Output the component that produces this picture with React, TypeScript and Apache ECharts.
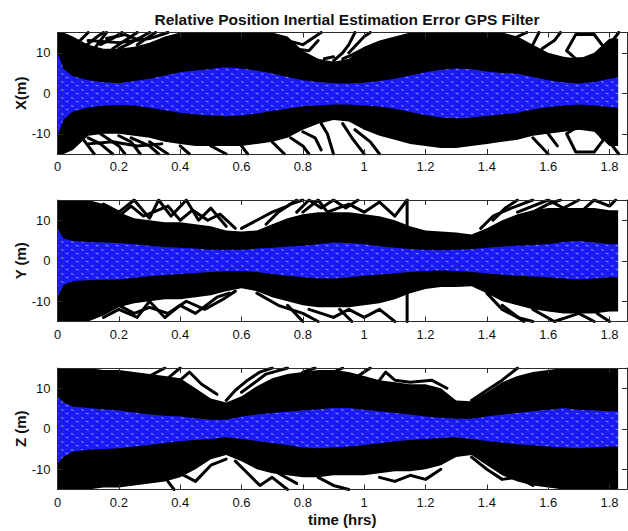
import React, { useEffect, useRef } from "react";
import * as echarts from "echarts";

// time samples (hrs) shared by the envelope arrays below
const timeHrs = [0, 0.02, 0.05, 0.1, 0.15, 0.2, 0.25, 0.3, 0.35, 0.4, 0.45, 0.5, 0.55, 0.6, 0.65, 0.7, 0.75, 0.8, 0.85, 0.9, 0.95, 1.0, 1.05, 1.1, 1.15, 1.2, 1.25, 1.3, 1.35, 1.4, 1.45, 1.5, 1.55, 1.6, 1.65, 1.7, 1.75, 1.8, 1.828];

// X panel: extent of the dense blue (filter) runs and black (inertial) runs, metres
const xBlueUpper = [10, 6.0, 4.2, 3.2, 2.7, 2.5, 3.0, 3.6, 4.4, 5.2, 5.6, 6.0, 6.4, 6.1, 5.6, 4.9, 4.0, 3.2, 2.8, 2.5, 2.4, 2.6, 3.0, 3.6, 4.4, 5.2, 5.8, 6.1, 5.9, 5.4, 5.0, 4.8, 4.0, 3.2, 2.7, 2.4, 2.8, 3.6, 3.9];
const xBlueLower = [-10.5, -6.5, -4.5, -3.5, -3.0, -2.9, -3.0, -3.6, -4.2, -4.8, -5.2, -5.5, -5.7, -5.5, -5.0, -4.4, -3.8, -3.2, -3.0, -2.8, -2.8, -3.0, -3.3, -3.8, -4.6, -5.4, -6.0, -6.2, -6.0, -5.6, -5.2, -4.8, -4.0, -3.4, -3.0, -2.8, -3.0, -3.4, -3.6];
const xBlackUpper = [15, 15, 14, 12, 11, 11, 11.5, 12.5, 14, 15, 15, 15, 15, 15, 15, 15, 14, 10.5, 8.5, 7.8, 8.5, 11.5, 13, 14, 15, 15, 15, 15, 15, 15, 15, 14, 12, 10, 9, 8.5, 10, 13.5, 13.5];
const xBlackLower = [-15, -15, -14, -10.5, -10, -10, -10.5, -11, -12, -12.5, -13, -13, -13, -13, -12.5, -12, -11, -9, -7.5, -6.6, -7, -9, -10.5, -11.5, -12.5, -13, -13.5, -13.5, -13, -12.5, -12, -11.5, -10.5, -10, -9.5, -9, -9.5, -13, -13];
const xStrands = [
  [[0.06, 12], [0.1, 15]], [[0.08, 11], [0.13, 14], [0.15, 15]], [[0.12, 11], [0.16, 15]], [[0.14, 12], [0.19, 14], [0.21, 15]],
  [[0.18, 11], [0.22, 13], [0.26, 15]], [[0.2, 11], [0.24, 12.5], [0.3, 15]], [[0.26, 12], [0.29, 13.5], [0.32, 15]],
  [[0.1, 13], [0.2, 12.5], [0.3, 13.5], [0.36, 15]], [[0.16, 13.5], [0.22, 14.5], [0.27, 13]],
  [[0.07, -10], [0.1, -13], [0.12, -15]], [[0.1, -11], [0.14, -12.5], [0.18, -15]], [[0.14, -10], [0.2, -13], [0.22, -15]],
  [[0.2, -10.5], [0.24, -12], [0.27, -15]], [[0.24, -11], [0.3, -13], [0.33, -15]], [[0.1, -12.5], [0.18, -12], [0.26, -13], [0.34, -12.5]],
  [[0.3, -12], [0.36, -15]], [[0.4, -13], [0.43, -15]], [[0.5, -13], [0.55, -15]], [[0.6, -13], [0.62, -15]], [[0.7, -12], [0.74, -15]],
  [[0.75, 13], [0.8, 12], [0.84, 14], [0.86, 15]], [[0.77, 11], [0.82, 10.5], [0.85, 13]], [[0.9, 8], [0.93, 10], [0.95, 12], [0.97, 15]],
  [[0.95, 10], [1.0, 14], [1.02, 15]], [[0.87, 8.5], [0.9, 9]], [[0.93, 8.5], [0.96, 9.5], [1.0, 11]],
  [[0.76, -11], [0.8, -13], [0.82, -15]], [[0.8, -9.5], [0.84, -11], [0.86, -14]], [[0.86, -7.5], [0.88, -10], [0.9, -15]],
  [[0.93, -7.5], [0.96, -11], [0.99, -14], [1.0, -15]], [[0.97, -9], [1.02, -12], [1.05, -15]],
  [[1.5, 14], [1.53, 15]], [[1.55, 12], [1.57, 15]], [[1.58, 11], [1.62, 13], [1.64, 15]],
  [[1.66, 10.5], [1.69, 14.5], [1.75, 14.5], [1.78, 11.5], [1.75, 8.5], [1.69, 8.5], [1.66, 10.5]],
  [[1.78, 10], [1.83, 15]],
  [[1.66, -10], [1.69, -14.5], [1.75, -14.5], [1.78, -11.5], [1.75, -8.5], [1.69, -8.5], [1.66, -10]],
  [[1.55, -11], [1.6, -15]], [[1.78, -10], [1.83, -15]], [[1.6, -10], [1.63, -13]],
];

// Y panel
const yBlueUpper = [8, 5.5, 4.9, 4.6, 4.5, 4.4, 4.1, 3.7, 3.4, 3.2, 3.0, 2.7, 2.7, 2.7, 3.0, 3.2, 3.5, 3.7, 4.1, 4.5, 4.4, 4.1, 3.6, 3.2, 2.9, 2.7, 2.6, 2.7, 2.9, 3.2, 3.5, 3.7, 3.9, 4.1, 4.6, 4.9, 4.5, 4.1, 4.1];
const yBlueLower = [-9, -6, -5.0, -4.8, -4.7, -4.6, -4.2, -3.8, -3.5, -3.3, -3.0, -2.8, -2.6, -2.5, -2.8, -3.3, -3.7, -4.1, -4.3, -4.4, -4.1, -3.7, -3.4, -3.1, -2.8, -2.5, -2.4, -2.5, -2.8, -3.1, -3.4, -3.7, -3.9, -4.1, -4.4, -4.6, -4.4, -4.1, -4.1];
const yBlackUpper = [15, 15, 15, 15, 14, 12, 10.5, 10, 9.5, 9.5, 9, 8.5, 7.5, 7.2, 7.5, 9, 10.5, 11.5, 12, 12, 12, 11.5, 11, 10, 8.5, 7.5, 7.2, 7, 6.5, 8, 10, 11.5, 12.5, 13, 13, 13, 13, 12.5, 12.5];
const yBlackLower = [-15, -15, -15, -15, -13.5, -11.5, -10.5, -10, -9.5, -9.5, -9, -8.5, -7.5, -6.8, -7.5, -9, -10, -11, -11.5, -11.5, -11.5, -11, -10.5, -9.5, -8, -7, -6.5, -6.5, -6.3, -8, -10, -11, -12, -12.5, -13, -13, -13, -12.5, -12.5];
const yStrands = [
  [[0.15, 14], [0.2, 12], [0.25, 15], [0.3, 10.5], [0.33, 15], [0.37, 11], [0.42, 15], [0.46, 10], [0.5, 13], [0.55, 8.5]],
  [[0.2, 11], [0.24, 13.5], [0.28, 11], [0.36, 13.5], [0.4, 10], [0.44, 12.5], [0.49, 10], [0.53, 11.5], [0.58, 8]],
  [[0.6, 8], [0.65, 10], [0.7, 12], [0.75, 13.5], [0.78, 15]], [[0.68, 9], [0.72, 12], [0.76, 14], [0.8, 15]],
  [[0.8, 12], [0.85, 15], [0.88, 12], [0.95, 14], [1.0, 12], [1.05, 14.5], [1.1, 11], [1.14, 15]],
  [[0.78, 12], [0.82, 15], [0.86, 13], [0.9, 15], [0.94, 13], [0.98, 15]],
  [[1.14, 15], [1.14, 8]],
  [[1.38, 8], [1.42, 11], [1.48, 13], [1.55, 15]], [[1.42, 10], [1.46, 13], [1.5, 15]],
  [[1.5, 12], [1.6, 15], [1.65, 13], [1.7, 15]], [[1.55, 12], [1.6, 14], [1.64, 15]], [[1.72, 13], [1.75, 15], [1.8, 13.5], [1.82, 15]],
  [[0.15, -14], [0.2, -12], [0.26, -14], [0.3, -10], [0.35, -14], [0.4, -11], [0.45, -13], [0.52, -9], [0.56, -8]],
  [[0.2, -11], [0.25, -13], [0.3, -11.5], [0.36, -13], [0.42, -10], [0.48, -12], [0.54, -9.5], [0.58, -7.5]],
  [[0.65, -8], [0.72, -11], [0.8, -13], [0.85, -15]],
  [[0.82, -12], [0.9, -14], [0.95, -12], [1.0, -14], [1.05, -12], [1.1, -15]],
  [[0.75, -11], [0.8, -15]], [[0.92, -12], [0.96, -15]],
  [[1.14, -15], [1.14, -8]],
  [[1.4, -8], [1.45, -12], [1.5, -14], [1.55, -15]],
  [[1.55, -12], [1.62, -15], [1.7, -13], [1.75, -15]], [[1.45, -11], [1.52, -15]], [[1.76, -13], [1.8, -15]],
];

// Z panel
const zBlueUpper = [8, 6.5, 5.5, 5.1, 4.8, 4.5, 4.0, 3.5, 3.2, 3.0, 2.6, 2.2, 2.2, 3.0, 3.5, 3.9, 4.2, 4.5, 4.8, 5.1, 5.1, 4.7, 4.3, 3.9, 3.5, 3.0, 2.7, 2.5, 2.5, 3.0, 3.5, 3.9, 4.3, 4.7, 5.1, 4.7, 4.5, 4.3, 4.3];
const zBlueLower = [-8.5, -7, -5.6, -5.2, -5.0, -4.8, -4.4, -4.0, -3.5, -3.1, -2.8, -2.5, -2.1, -2.5, -3.0, -3.5, -4.0, -4.6, -4.8, -4.6, -4.4, -4.0, -3.6, -3.1, -2.8, -2.5, -2.3, -2.1, -2.5, -3.0, -3.4, -3.8, -4.1, -4.4, -4.6, -4.8, -4.6, -4.4, -4.4];
const zBlackUpper = [15, 15, 15, 15, 14.5, 14.5, 14, 13.5, 13, 12.5, 10, 7.5, 6.5, 8, 10.5, 12.5, 13.5, 14, 14.5, 14.5, 14, 13, 12, 11.5, 11, 11, 10, 7, 6.8, 9, 11.5, 13, 14, 14.5, 15, 15, 15, 15, 15];
const zBlackLower = [-15, -15, -15, -15, -14.5, -14.5, -14, -13.5, -13, -12, -10, -7.5, -6.5, -8, -10, -11, -11.5, -12, -12, -11.5, -11.5, -11.5, -11, -10.5, -10.5, -10, -9, -7, -6.5, -9, -11.5, -13, -14, -14.5, -15, -15, -15, -15, -15];
const zStrands = [
  [[0.3, 13], [0.35, 15]], [[0.4, 12], [0.43, 14], [0.47, 11], [0.52, 8.5]], [[0.36, 12.5], [0.4, 15]],
  [[0.55, 7], [0.58, 9.5], [0.62, 12], [0.66, 14], [0.7, 15]], [[0.6, 9], [0.68, 13.5], [0.75, 15]], [[0.98, 13], [1.02, 15]],
  [[0.8, 14], [0.84, 15]], [[0.9, 14], [0.93, 15]],
  [[1.05, 12], [1.07, 14], [1.1, 12], [1.15, 11.5], [1.22, 12], [1.27, 10]], [[1.35, 7], [1.4, 9.5], [1.45, 12], [1.5, 15]],
  [[0.36, -13], [0.38, -15]], [[0.4, -11], [0.45, -13], [0.5, -9], [0.55, -7.5]],
  [[0.58, -8], [0.62, -11], [0.66, -14], [0.7, -12], [0.75, -15]], [[0.85, -12], [0.9, -14], [0.95, -15]], [[0.72, -11], [0.78, -13.5]],
  [[1.05, -12], [1.1, -13], [1.15, -11.5], [1.2, -12.5], [1.25, -10]], [[1.35, -7], [1.4, -10], [1.45, -12.5], [1.5, -12], [1.55, -14]],
];

// axis ticks
const xTickValues = [0, 0.2, 0.4, 0.6, 0.8, 1, 1.2, 1.4, 1.6, 1.8];
const yTickValues = [-10, 0, 10];
const yNames = ["X(m)", "Y (m)", "Z (m)"];
const titleText = "Relative Position Inertial Estimation Error GPS Filter";
const xAxisTitle = "time (hrs)";

const panels = [
  { blackLo: xBlackLower, blackUp: xBlackUpper, blueLo: xBlueLower, blueUp: xBlueUpper, strands: xStrands },
  { blackLo: yBlackLower, blackUp: yBlackUpper, blueLo: yBlueLower, blueUp: yBlueUpper, strands: yStrands },
  { blackLo: zBlackLower, blackUp: zBlackUpper, blueLo: zBlueLower, blueUp: zBlueUpper, strands: zStrands },
];

const FONT = "'Liberation Sans', Arial, Helvetica, sans-serif";
const AXIS_COLOR = "#2b2b2b";
const gridTops = [32.5, 200, 368];
const gridHeight = 121.5;

const tileSvg =
  "<svg xmlns='http://www.w3.org/2000/svg' width='10' height='8'>" +
  "<rect width='10' height='8' fill='#1a1af6'/>" +
  "<path d='M1 1.6 L3.6 2.4' stroke='#ffffff' stroke-width='0.7' stroke-opacity='0.75'/>" +
  "<path d='M5.6 5.2 L8.6 6.0' stroke='#ffffff' stroke-width='0.7' stroke-opacity='0.75'/>" +
  "</svg>";
const blueTile = "data:image/svg+xml;charset=utf-8," + encodeURIComponent(tileSvg);

function bandSeries(xi: number, lo: number[], up: number[], fill: any, z: number) {
  return {
    type: "custom",
    xAxisIndex: xi,
    yAxisIndex: xi,
    silent: true,
    clip: true,
    z,
    data: [[timeHrs[0], lo[0]]],
    renderItem: (_params: any, api: any) => {
      const pts: number[][] = [];
      for (let k = 0; k < timeHrs.length; k++) pts.push(api.coord([timeHrs[k], up[k]]));
      for (let k = timeHrs.length - 1; k >= 0; k--) pts.push(api.coord([timeHrs[k], lo[k]]));
      return { type: "polygon", shape: { points: pts }, style: { fill, stroke: null } };
    },
  };
}

function buildOption() {
  const grid: any[] = [];
  const xAxis: any[] = [];
  const yAxis: any[] = [];
  const series: any[] = [];

  panels.forEach((p, i) => {
    grid.push({ left: 57.5, right: 1, top: gridTops[i], height: gridHeight, containLabel: false, outerBoundsMode: "none" });
    const baseX = {
      type: "value",
      gridIndex: i,
      min: 0,
      max: 1.857,
      interval: 0.2,
      splitLine: { show: false },
      axisLine: { show: true, onZero: false, lineStyle: { color: AXIS_COLOR, width: 1 } },
      axisTick: { show: true, inside: true, length: 5, lineStyle: { color: AXIS_COLOR }, customValues: xTickValues },
      z: 5,
    };
    xAxis.push({
      ...baseX,
      position: "bottom",
      axisLabel: { show: true, customValues: xTickValues, color: "#111", fontSize: 13, fontFamily: FONT, margin: 6, formatter: (v: number) => String(+v.toFixed(1)) },
      ...(i === 2
        ? { name: xAxisTitle, nameLocation: "middle", nameGap: 22, nameTextStyle: { fontSize: 15, fontWeight: "bold", fontFamily: FONT, color: "#111" } }
        : {}),
    });
    xAxis.push({ ...baseX, position: "top", axisLabel: { show: false } });

    const baseY = {
      type: "value",
      gridIndex: i,
      min: -15,
      max: 15,
      interval: 5,
      splitLine: { show: false },
      axisLine: { show: true, onZero: false, lineStyle: { color: AXIS_COLOR, width: 1 } },
      axisTick: { show: true, inside: true, length: 5, lineStyle: { color: AXIS_COLOR }, customValues: yTickValues },
      z: 5,
    };
    yAxis.push({
      ...baseY,
      position: "left",
      axisLabel: { show: true, customValues: yTickValues, color: "#111", fontSize: 13, fontFamily: FONT, margin: 7 },
      name: yNames[i],
      nameLocation: "middle",
      nameGap: 30,
      nameMoveOverlap: false,
      nameRotate: 90,
      nameTextStyle: { fontSize: 15, fontWeight: "bold", fontFamily: FONT, color: "#111" },
    });
    yAxis.push({ ...baseY, position: "right", axisLabel: { show: false } });

    const xi = i * 2;
    series.push(bandSeries(xi, p.blackLo, p.blackUp, "#000000", 2));
    p.strands.forEach((s, k) => {
      series.push({
        type: "line",
        name: "inertial-run-" + i + "-" + k,
        xAxisIndex: xi,
        yAxisIndex: xi,
        symbol: "none",
        silent: true,
        clip: true,
        z: 2,
        data: s,
        lineStyle: { width: 3, color: "#000", join: "round", cap: "round" },
      });
    });
    series.push(bandSeries(xi, p.blueLo, p.blueUp, { image: blueTile, repeat: "repeat" }, 3));
  });

  return {
    animation: false,
    backgroundColor: "#ffffff",
    title: {
      text: titleText,
      left: 342,
      textAlign: "center",
      top: 6,
      textStyle: { fontSize: 15.5, fontWeight: "bold", fontFamily: FONT, color: "#111" },
    },
    grid,
    xAxis,
    yAxis,
    series,
  };
}

export default function App() {
  const ref = useRef<HTMLDivElement>(null);
  useEffect(() => {
    if (!ref.current) return;
    const chart = echarts.init(ref.current, undefined, { renderer: "svg" });
    chart.setOption(buildOption() as any);
    return () => chart.dispose();
  }, []);
  return (
    <div
      ref={ref}
      style={{ position: "fixed", left: 0, top: 0, width: 628, height: 531, background: "#fff" }}
    />
  );
}
